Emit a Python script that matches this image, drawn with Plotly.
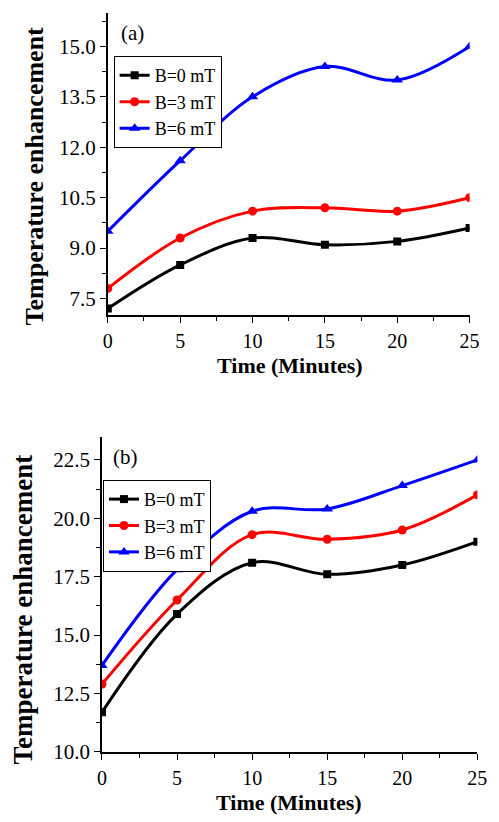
import plotly.graph_objects as go

# ---------------- data ----------------
time_min = [0, 5, 10, 15, 20, 25]
series_names = ["B=0 mT", "B=3 mT", "B=6 mT"]

a_b0 = [7.2, 8.5, 9.3, 9.1, 9.2, 9.6]
a_b3 = [7.8, 9.3, 10.1, 10.2, 10.1, 10.5]
a_b6 = [9.5, 11.6, 13.5, 14.4, 14.0, 15.0]

b_b0 = [11.7, 15.9, 18.1, 17.6, 18.0, 19.0]
b_b3 = [12.9, 16.5, 19.3, 19.1, 19.5, 21.0]
b_b6 = [13.7, 17.8, 20.3, 20.4, 21.4, 22.5]

x_title = "Time (Minutes)"
y_title = "Temperature enhancement"
panel_labels = ["(a)", "(b)"]

# ---------------- style ----------------
W, H = 499, 822
FONT = "Liberation Serif, Times New Roman, serif"
colors = ["#000000", "#ff0000", "#0000ff"]
symbols = ["square", "circle", "triangle-up"]
msizes = [8, 9, 10]

def px_x(p):
    return p / W

def px_y(p):
    return 1 - p / H

fig = go.Figure()

panels = [
    dict(data=[a_b0, a_b3, a_b6], xa="x", ya="y", leg="legend"),
    dict(data=[b_b0, b_b3, b_b6], xa="x2", ya="y2", leg="legend2"),
]
for p in panels:
    for name, vals, c, s, ms in zip(series_names, p["data"], colors, symbols, msizes):
        fig.add_trace(go.Scatter(
            x=time_min, y=vals, name=name, mode="lines+markers",
            line=dict(color=c, width=3, shape="spline", smoothing=1),
            marker=dict(symbol=s, size=ms, color=c),
            xaxis=p["xa"], yaxis=p["ya"], legend=p["leg"],
        ))

ytickfont = dict(family=FONT, size=21, color="black")
xtickfont = dict(family=FONT, size=20, color="black")

def base_x(domain, anchor):
    return dict(domain=domain, anchor=anchor, range=[0, 25], dtick=5, tick0=0,
                ticks="outside", ticklen=6, tickwidth=1.3, tickcolor="black",
                showline=True, linecolor="black", linewidth=1.5, showgrid=False,
                zeroline=False, tickfont=xtickfont, ticklabelstandoff=1,
                minor=dict(dtick=2.5, ticks="outside", ticklen=4, tickcolor="black",
                           tickwidth=1.2, showgrid=False))

def base_y(domain, anchor, rng, dtick, tick0):
    return dict(domain=domain, anchor=anchor, range=rng, dtick=dtick, tick0=tick0,
                tickformat=".1f",
                ticks="outside", ticklen=6, tickwidth=1.3, tickcolor="black",
                showline=True, linecolor="black", linewidth=1.5, showgrid=False,
                zeroline=False, tickfont=ytickfont,
                minor=dict(dtick=dtick / 2, ticks="outside", ticklen=4, tickcolor="black",
                           tickwidth=1.2, showgrid=False))

def mirror_x(over, anchor):
    return dict(overlaying=over, anchor=anchor, side="top", range=[0, 25], dtick=5, tick0=0,
                ticks="inside", ticklen=5, tickwidth=1.3, tickcolor="black",
                showline=True, linecolor="black", linewidth=1.5, showgrid=False,
                zeroline=False, showticklabels=False,
                minor=dict(dtick=2.5, ticks="inside", ticklen=3, tickcolor="black",
                           tickwidth=1.2, showgrid=False))

def mirror_y(over, anchor, rng, dtick, tick0):
    return dict(overlaying=over, anchor=anchor, side="right", range=rng, dtick=dtick,
                tick0=tick0, ticks="inside", ticklen=5, tickwidth=1.3, tickcolor="black",
                showline=True, linecolor="black", linewidth=1.5, showgrid=False,
                zeroline=False, showticklabels=False,
                minor=dict(dtick=dtick / 2, ticks="inside", ticklen=3, tickcolor="black",
                           tickwidth=1.2, showgrid=False))

top_xd = [px_x(106), px_x(479)]
top_yd = [px_y(320), px_y(13)]
bot_xd = [px_x(100), px_x(487)]
bot_yd = [px_y(763), px_y(443)]

legend_style = dict(font=dict(family=FONT, size=18, color="black"),
                    bordercolor="black", borderwidth=1, bgcolor="white",
                    xanchor="left", yanchor="top", itemwidth=30,
                    tracegroupgap=0)

fig.update_layout(
    width=W, height=H,
    margin=dict(l=0, r=0, t=0, b=0),
    paper_bgcolor="white", plot_bgcolor="white",
    font=dict(family=FONT, color="black"),
    xaxis=base_x(top_xd, "y"),
    yaxis=base_y(top_yd, "x", [7, 16], 1.5, 7.5),
    xaxis2=base_x(bot_xd, "y2"),
    yaxis2=base_y(bot_yd, "x2", [10, 23.5], 2.5, 10),
    xaxis3=mirror_x("x", "y"),
    yaxis3=mirror_y("y", "x", [7, 16], 1.5, 7.5),
    xaxis4=mirror_x("x2", "y2"),
    yaxis4=mirror_y("y2", "x2", [10, 23.5], 2.5, 10),
    legend=dict(x=px_x(112), y=px_y(57), **legend_style),
    legend2=dict(x=px_x(101), y=px_y(487), **legend_style),
    showlegend=True,
)

ann_title = dict(family=FONT, color="black", weight="bold")
common = dict(xref="paper", yref="paper", showarrow=False,
              xanchor="center", yanchor="middle")
annotations = [
    dict(text=x_title, x=px_x(294), y=px_y(371), font=dict(size=22, **ann_title), **common),
    dict(text=x_title, x=px_x(293), y=px_y(814), font=dict(size=22, **ann_title), **common),
    dict(text=y_title, x=px_x(30), y=px_y(179), textangle=-90,
         font=dict(size=26, **ann_title), **common),
    dict(text=y_title, x=px_x(19), y=px_y(618), textangle=-90,
         font=dict(size=27, **ann_title), **common),
    dict(text=panel_labels[0], x=px_x(131), y=px_y(33),
         font=dict(family=FONT, size=21, color="black"), **common),
    dict(text=panel_labels[1], x=px_x(124), y=px_y(464),
         font=dict(family=FONT, size=21, color="black"), **common),
]
fig.update_layout(annotations=annotations)

fig.write_html("out.html", config={"displayModeBar": False},
               post_script="document.body.style.margin='0';document.body.style.overflow='hidden';")
